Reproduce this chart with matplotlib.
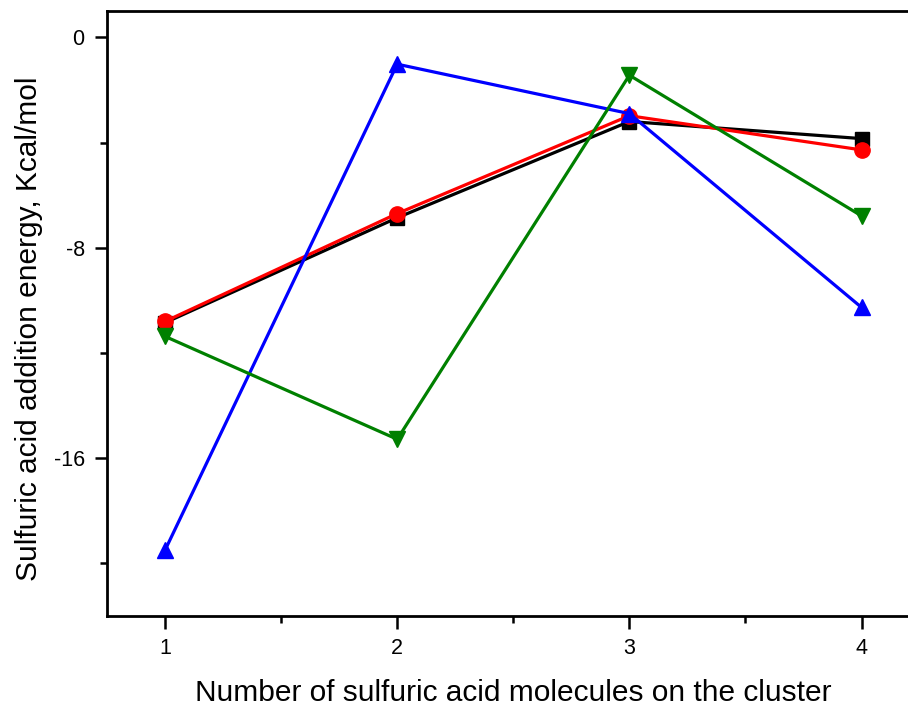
import matplotlib.pyplot as plt
from matplotlib.ticker import MultipleLocator

plt.rcParams['font.family'] = ['Liberation Sans', 'DejaVu Sans']
plt.rcParams['axes.unicode_minus'] = False

n_acid = [1, 2, 3, 4]
black_sq = [-10.85, -6.86, -3.2, -3.85]
red_circ = [-10.8, -6.7, -2.98, -4.28]
blue_up = [-19.5, -1.02, -2.9, -10.27]
green_down = [-11.37, -15.28, -1.44, -6.79]

fig = plt.figure(figsize=(9.08, 7.07), dpi=100)
ax = fig.add_axes([0.1178, 0.1287, 0.895, 0.8557])

lw = 2.3
ax.plot(n_acid, black_sq, "s-", color="black", linewidth=lw, markersize=9.5)
ax.plot(n_acid, red_circ, "o-", color="red", linewidth=lw, markersize=11)
ax.plot(n_acid, blue_up, "^-", color="blue", linewidth=lw, markersize=12)
ax.plot(n_acid, green_down, "v-", color="green", linewidth=lw, markersize=11.5)

ax.set_xlim(0.75, 4.25)
ax.set_ylim(-22, 1)
ax.xaxis.set_major_locator(MultipleLocator(1))
ax.xaxis.set_minor_locator(MultipleLocator(0.5))
ax.yaxis.set_major_locator(MultipleLocator(8))
ax.yaxis.set_minor_locator(MultipleLocator(4))
ax.tick_params(which="major", direction="out", length=9, width=1.8, labelsize=15.5, pad=7)
ax.tick_params(which="minor", direction="out", length=5, width=1.8)
for s in ax.spines.values():
    s.set_linewidth(2)

ax.set_xlabel("Number of sulfuric acid molecules on the cluster", fontsize=21.5, labelpad=14.5)
ax.set_ylabel("Sulfuric acid addition energy, Kcal/mol", fontsize=21.5, labelpad=8, y=0.474)

fig.savefig("out.png", dpi=100)
